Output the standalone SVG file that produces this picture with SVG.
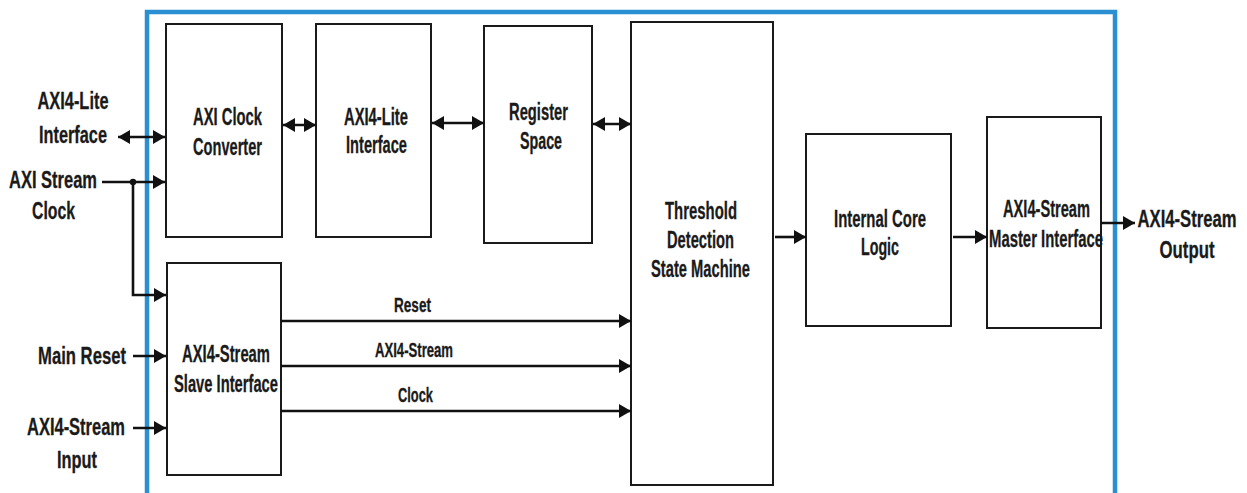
<svg xmlns="http://www.w3.org/2000/svg" width="1247" height="493" viewBox="0 0 1247 493">
  <style>
    .frame { fill: none; stroke: #2b90d2; stroke-width: 4.5; }
    .box { fill: #ffffff; stroke: #1a1a1a; stroke-width: 2; }
    .lbl { font-family: "Liberation Sans", Arial, sans-serif; font-weight: bold; font-size: 23px; fill: #1a1a1a; stroke: #1a1a1a; stroke-width: 0.3; text-anchor: middle; }
    .sm { font-size: 20px; }
    .wire { fill: none; stroke: #111111; stroke-width: 2.6; }
    .one { marker-end: url(#head); }
    .two { marker-start: url(#head); marker-end: url(#head); }
  </style>
  <defs>
    <marker id="head" markerUnits="userSpaceOnUse" markerWidth="13" markerHeight="14" refX="12" refY="7" orient="auto-start-reverse">
      <path d="M0,0 L12,7 L0,14 z" fill="#111111"/>
    </marker>
  </defs>

  <rect width="1247" height="493" fill="#ffffff"/>

  <!-- core boundary, open at the bottom -->
  <path class="frame" d="M147,500 V12 H1115 V500"/>

  <g id="axi-clock-converter">
    <rect class="box" x="166" y="24" width="116" height="213"/>
    <text class="lbl" x="227.5" y="125" textLength="69" lengthAdjust="spacingAndGlyphs">AXI Clock</text>
    <text class="lbl" x="227.5" y="155" textLength="69" lengthAdjust="spacingAndGlyphs">Converter</text>
  </g>

  <g id="axi4-lite-interface">
    <rect class="box" x="316" y="24" width="115" height="213"/>
    <text class="lbl" x="376" y="125" textLength="64" lengthAdjust="spacingAndGlyphs">AXI4-Lite</text>
    <text class="lbl" x="376.5" y="153" textLength="61" lengthAdjust="spacingAndGlyphs">Interface</text>
  </g>

  <g id="register-space">
    <rect class="box" x="484" y="26" width="108" height="217"/>
    <text class="lbl" x="538.5" y="120" textLength="59" lengthAdjust="spacingAndGlyphs">Register</text>
    <text class="lbl" x="541" y="149" textLength="42" lengthAdjust="spacingAndGlyphs">Space</text>
  </g>

  <g id="threshold-detection">
    <rect class="box" x="631" y="22" width="142" height="463"/>
    <text class="lbl" x="701" y="219" textLength="72" lengthAdjust="spacingAndGlyphs">Threshold</text>
    <text class="lbl" x="700.5" y="248" textLength="67" lengthAdjust="spacingAndGlyphs">Detection</text>
    <text class="lbl" x="700.5" y="277" textLength="99" lengthAdjust="spacingAndGlyphs">State Machine</text>
  </g>

  <g id="internal-core-logic">
    <rect class="box" x="806" y="134" width="145" height="192"/>
    <text class="lbl" x="880" y="227" textLength="92" lengthAdjust="spacingAndGlyphs">Internal Core</text>
    <text class="lbl" x="880" y="255" textLength="38" lengthAdjust="spacingAndGlyphs">Logic</text>
  </g>

  <g id="axi4-stream-master">
    <rect class="box" x="987" y="117" width="114" height="211"/>
    <text class="lbl" x="1046.5" y="217" textLength="87" lengthAdjust="spacingAndGlyphs">AXI4-Stream</text>
    <text class="lbl" x="1046" y="247" textLength="114" lengthAdjust="spacingAndGlyphs">Master Interface</text>
  </g>

  <g id="axi4-stream-slave">
    <rect class="box" x="167" y="263" width="114" height="212"/>
    <text class="lbl" x="226" y="362" textLength="88" lengthAdjust="spacingAndGlyphs">AXI4-Stream</text>
    <text class="lbl" x="226" y="392" textLength="104" lengthAdjust="spacingAndGlyphs">Slave Interface</text>
  </g>

  <!-- external ports -->
  <g id="port-axi4-lite">
    <text class="lbl" x="73" y="109" textLength="71" lengthAdjust="spacingAndGlyphs">AXI4-Lite</text>
    <text class="lbl" x="73" y="143" textLength="68" lengthAdjust="spacingAndGlyphs">Interface</text>
  </g>
  <g id="port-stream-clock">
    <text class="lbl" x="53" y="188" textLength="88" lengthAdjust="spacingAndGlyphs">AXI Stream</text>
    <text class="lbl" x="53.5" y="219" textLength="43" lengthAdjust="spacingAndGlyphs">Clock</text>
  </g>
  <g id="port-main-reset">
    <text class="lbl" x="82" y="364" textLength="88" lengthAdjust="spacingAndGlyphs">Main Reset</text>
  </g>
  <g id="port-stream-input">
    <text class="lbl" x="76" y="435" textLength="98" lengthAdjust="spacingAndGlyphs">AXI4-Stream</text>
    <text class="lbl" x="77" y="468" textLength="40" lengthAdjust="spacingAndGlyphs">Input</text>
  </g>
  <g id="port-stream-output">
    <text class="lbl" x="1187" y="227" textLength="99" lengthAdjust="spacingAndGlyphs">AXI4-Stream</text>
    <text class="lbl" x="1187" y="258" textLength="55" lengthAdjust="spacingAndGlyphs">Output</text>
  </g>

  <g id="connectors">
    <line class="wire two" x1="118" y1="137" x2="165" y2="137"/>
    <line class="wire one" x1="102" y1="182" x2="165" y2="182"/>
    <path class="wire one" d="M133,182 V295 H166"/>
    <circle cx="133" cy="182" r="3.2" fill="#111111"/>
    <line class="wire one" x1="133" y1="356" x2="166" y2="356"/>
    <line class="wire one" x1="133" y1="428" x2="166" y2="428"/>

    <line class="wire two" x1="283" y1="125" x2="316" y2="125"/>
    <line class="wire two" x1="432" y1="123" x2="484" y2="123"/>
    <line class="wire two" x1="593" y1="124" x2="631" y2="124"/>

    <line class="wire one" x1="281" y1="321" x2="631" y2="321"/>
    <line class="wire one" x1="281" y1="366" x2="631" y2="366"/>
    <line class="wire one" x1="281" y1="411" x2="631" y2="411"/>
    <text class="lbl sm" x="412.5" y="312" textLength="37" lengthAdjust="spacingAndGlyphs">Reset</text>
    <text class="lbl sm" x="414" y="357" textLength="78" lengthAdjust="spacingAndGlyphs">AXI4-Stream</text>
    <text class="lbl sm" x="415.5" y="402" textLength="35" lengthAdjust="spacingAndGlyphs">Clock</text>

    <line class="wire one" x1="775" y1="237" x2="806" y2="237"/>
    <line class="wire one" x1="953" y1="237" x2="987" y2="237"/>
    <line class="wire one" x1="1101" y1="223" x2="1135" y2="223"/>
  </g>
</svg>
